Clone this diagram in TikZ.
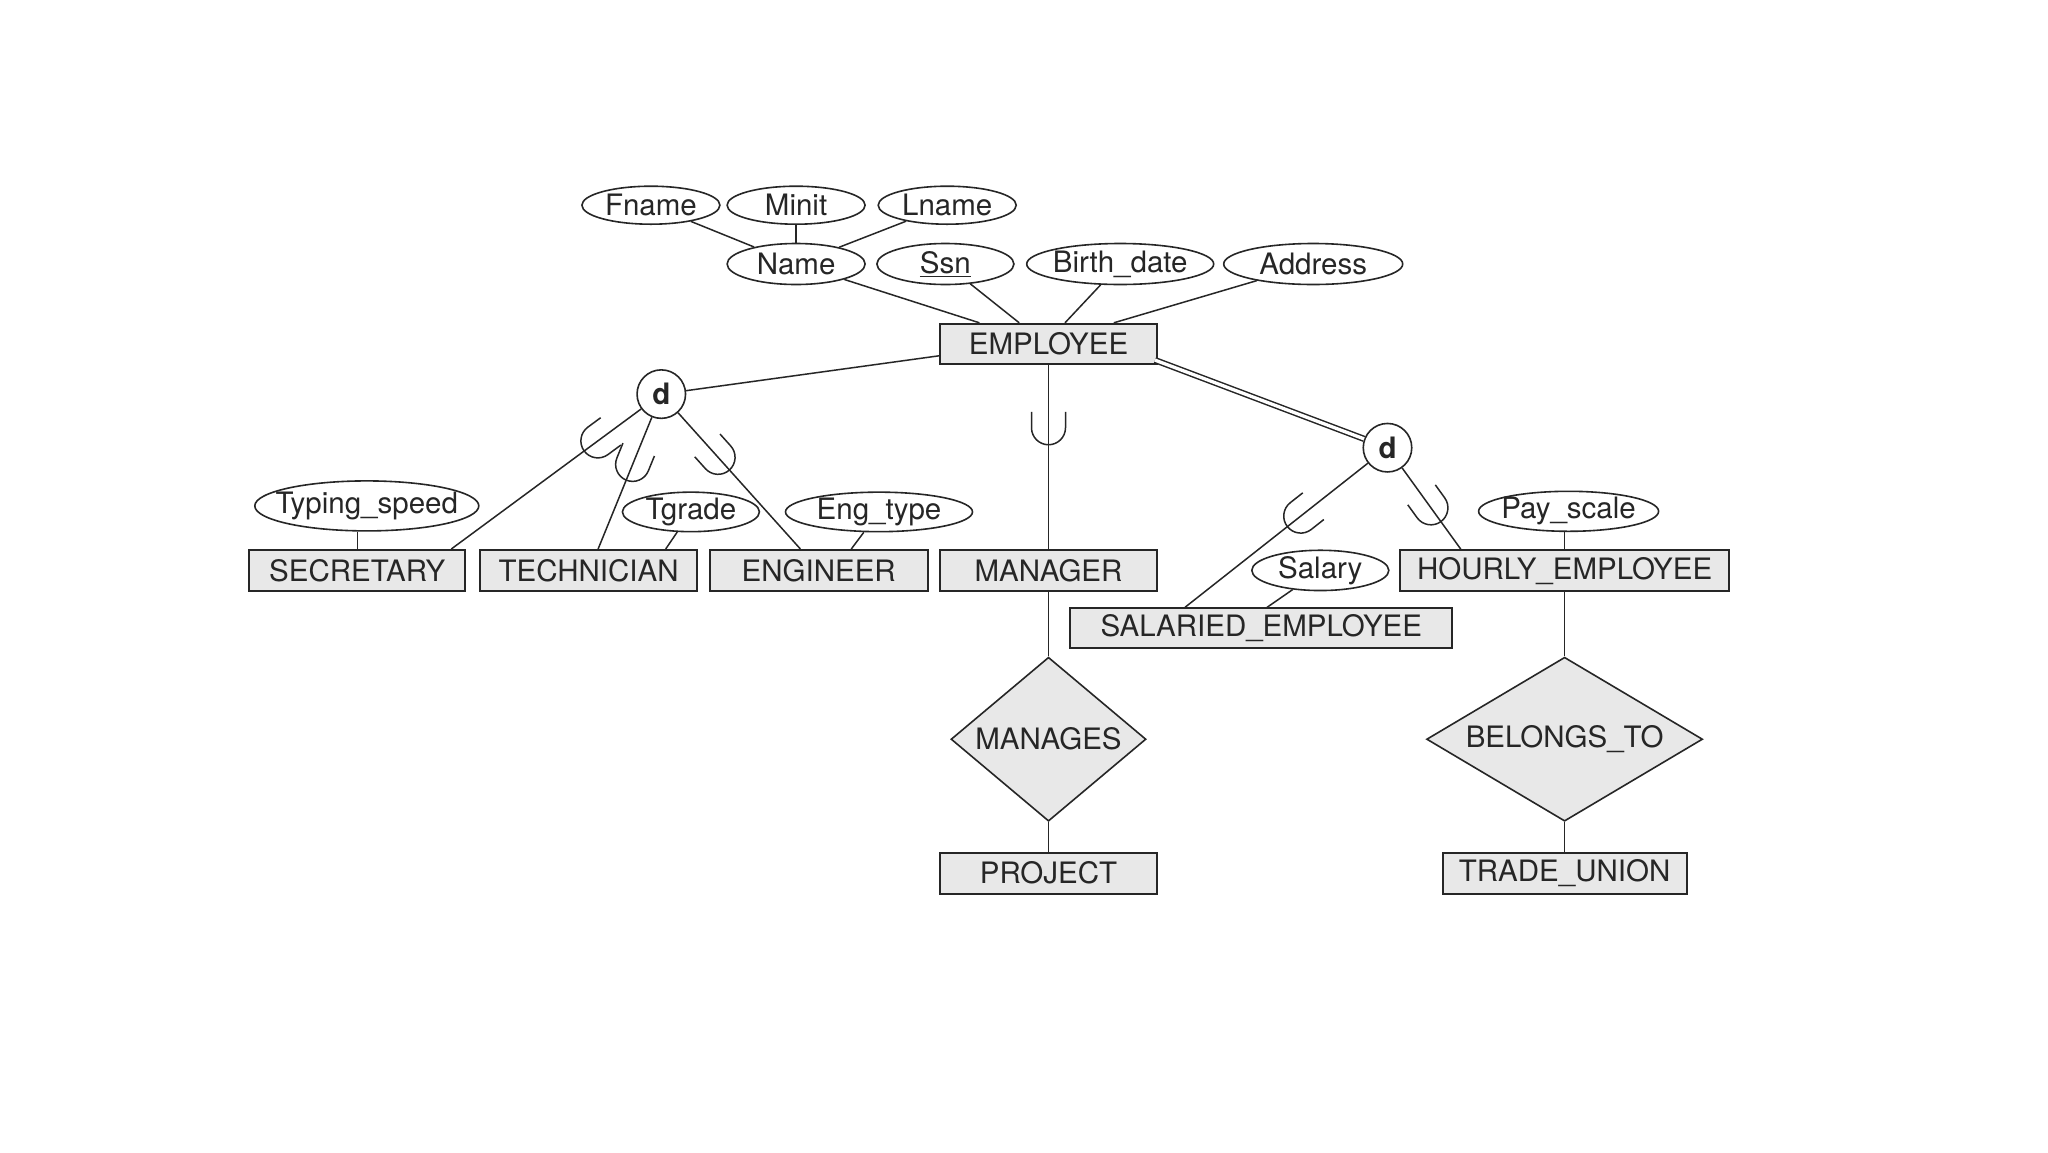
\documentclass[tikz,border=0pt]{standalone}
\usepackage{fontspec}
\setmainfont{TeX Gyre Heros}
\usetikzlibrary{shapes.geometric,calc}
\definecolor{boxfill}{HTML}{E8E8E8}
\definecolor{ink}{HTML}{262626}
\newcommand{\keyattr}[1]{\setbox0\hbox{#1}\leavevmode\rlap{\rule[-4pt]{\wd0}{1.5pt}}\box0}
\newcommand{\attrtext}[1]{\makebox[0pt]{#1}}
\begin{document}
\begin{tikzpicture}[x=1pt,y=-1pt,
  every node/.style={font=\fontsize{29.5}{34}\selectfont, text=ink},
  entity/.style={draw=ink, line width=2pt, fill=boxfill, rectangle, inner sep=0pt, minimum height=41pt},
  attr/.style={draw=ink, line width=1.6pt, fill=white, ellipse, inner sep=0pt},
  rel/.style={draw=ink, line width=1.6pt, fill=boxfill, diamond, inner sep=0pt},
  disj/.style={draw=ink, line width=1.6pt, fill=white, circle, inner sep=0pt, minimum size=48.5pt, font=\fontsize{29.5}{34}\selectfont\bfseries},
  conn/.style={draw=ink, line width=1.5pt},
  subsetsym/.pic={\draw[ink, line width=1.5pt] (-33,17) -- (-17,17) arc[start angle=90,end angle=-90,radius=17] -- (-33,-17);}
]
\useasboundingbox[fill=white] (0,0) rectangle (2048,1152);

% attributes of EMPLOYEE
\node[attr, minimum width=138pt, minimum height=38pt] (fname) at (650.9,205.2) {\attrtext{Fname}};
\node[attr, minimum width=138pt, minimum height=38pt] (minit) at (796.1,205.2) {\attrtext{Minit}};
\node[attr, minimum width=138pt, minimum height=38pt] (lname) at (947.2,205.2) {\attrtext{Lname}};
\node[attr, minimum width=138pt, minimum height=41pt] (name) at (796.1,264) {\attrtext{Name}};
\node[attr, minimum width=137pt, minimum height=41pt] (ssn) at (945.4,264) {\attrtext{\keyattr{Ssn}}};
\node[attr, minimum width=187pt, minimum height=41pt] (birth) at (1120.2,264) {\attrtext{Birth\_date}};
\node[attr, minimum width=179pt, minimum height=41pt] (addr) at (1313.2,264) {\attrtext{Address}};

% entities
\node[entity, minimum width=217pt, minimum height=40pt] (emp) at (1048.5,343.8) {EMPLOYEE};
\node[entity, minimum width=216pt] (sec) at (357.3,570.5) {SECRETARY};
\node[entity, minimum width=217pt] (tech) at (588.6,570.5) {TECHNICIAN};
\node[entity, minimum width=218pt] (eng) at (818.7,570.5) {ENGINEER};
\node[entity, minimum width=217pt] (mgr) at (1048.5,570.5) {MANAGER};
\node[entity, minimum width=329pt] (hour) at (1564.6,570.7) {HOURLY\_EMPLOYEE};
\node[entity, minimum width=382pt, minimum height=40pt] (sal) at (1261.3,628.3) {SALARIED\_EMPLOYEE};
\node[entity, minimum width=217pt] (proj) at (1048.5,873) {PROJECT};
\node[entity, minimum width=244pt] (tu) at (1564.6,873) {TRADE\_UNION};

% subclass attributes
\node[attr, minimum width=224pt, minimum height=50pt] (typ) at (366.8,505.9) {\attrtext{Typing\_speed}};
\node[attr, minimum width=137pt, minimum height=38pt] (tgrade) at (690.9,511.9) {\attrtext{Tgrade}};
\node[attr, minimum width=187pt, minimum height=38pt] (engtype) at (879,511.9) {\attrtext{Eng\_type}};
\node[attr, minimum width=137pt, minimum height=39pt] (salary) at (1320.3,570.4) {\attrtext{Salary}};
\node[attr, minimum width=180pt, minimum height=40pt] (pay) at (1568.6,511.3) {\attrtext{Pay\_scale}};

% disjointness circles
\node[disj] (d1) at (661.3,394.1) {d};
\node[disj] (d2) at (1387.5,447.7) {d};

% relationships
\node[rel, minimum width=195pt, minimum height=164pt, aspect=1.19] (manages) at (1048.5,739.2) {MANAGES};
\node[rel, minimum width=276pt, minimum height=164pt, aspect=1.68] (belongs) at (1564.6,739.2) {BELONGS\_TO};

% attribute connectors
\draw[conn] (fname) -- (name);
\draw[conn] (minit) -- (name);
\draw[conn] (lname) -- (name);
\coordinate (empA) at ($(emp.north west)+(40.4,0)$);
\coordinate (empB) at ($(emp.north west)+(80.2,0)$);
\coordinate (empC) at ($(emp.north west)+(126,0)$);
\coordinate (empD) at ($(emp.north west)+(174.8,0)$);
\draw[conn] (name) -- (empA);
\draw[conn] (ssn) -- (empB);
\draw[conn] (birth) -- (empC);
\draw[conn] (addr) -- (empD);

\draw[conn] (sec.north |- typ.south) -- (sec.north);
\coordinate (techA) at ($(tech.north west)+(186.6,0)$);
\draw[conn] (tgrade) -- (techA);
\coordinate (engA) at ($(eng.north west)+(142.6,0)$);
\draw[conn] (engtype) -- (engA);
\coordinate (salA) at ($(sal.north west)+(197.8,0)$);
\draw[conn] (salary) -- (salA);
\draw[conn] (hour.north |- pay.south) -- (hour.north);

% specialization connectors
\coordinate (empL) at ($(emp.south west)+(0,-9)$);
\draw[conn] (empL) -- (d1);
\coordinate (empR) at ($(emp.south east)+(-3,-4.7)$);
\draw[conn, double=white, double distance=3.3pt] (empR) -- (d2);

\coordinate (secT) at ($(sec.north east)+(-15,0)$);
\coordinate (techT) at ($(tech.north)+(9.5,0)$);
\coordinate (engT) at ($(eng.north)+(-18.3,0)$);
\coordinate (salT) at ($(sal.north west)+(115.7,0)$);
\coordinate (hourT) at ($(hour.north west)+(61.7,0)$);

\draw[conn] (d1) -- (secT) pic[pos=0.30, sloped, allow upside down]{subsetsym};
\draw[conn] (d1) -- (techT) pic[pos=0.477, sloped, allow upside down]{subsetsym};
\draw[conn] (d1) -- (engT) pic[pos=0.42, sloped, allow upside down]{subsetsym};
\draw[conn] (emp.south) -- (mgr.north) pic[pos=0.434, sloped, allow upside down]{subsetsym};
\draw[conn] (d2) -- (salT) pic[pos=0.44, sloped, allow upside down]{subsetsym};
\draw[conn] (d2) -- (hourT) pic[pos=0.66, sloped, allow upside down]{subsetsym};

% relationship connectors
\draw[conn] (mgr.south) -- (manages.north);
\draw[conn] (manages.south) -- (proj.north);
\draw[conn] (hour.south) -- (belongs.north);
\draw[conn] (belongs.south) -- (tu.north);
\end{tikzpicture}
\end{document}
